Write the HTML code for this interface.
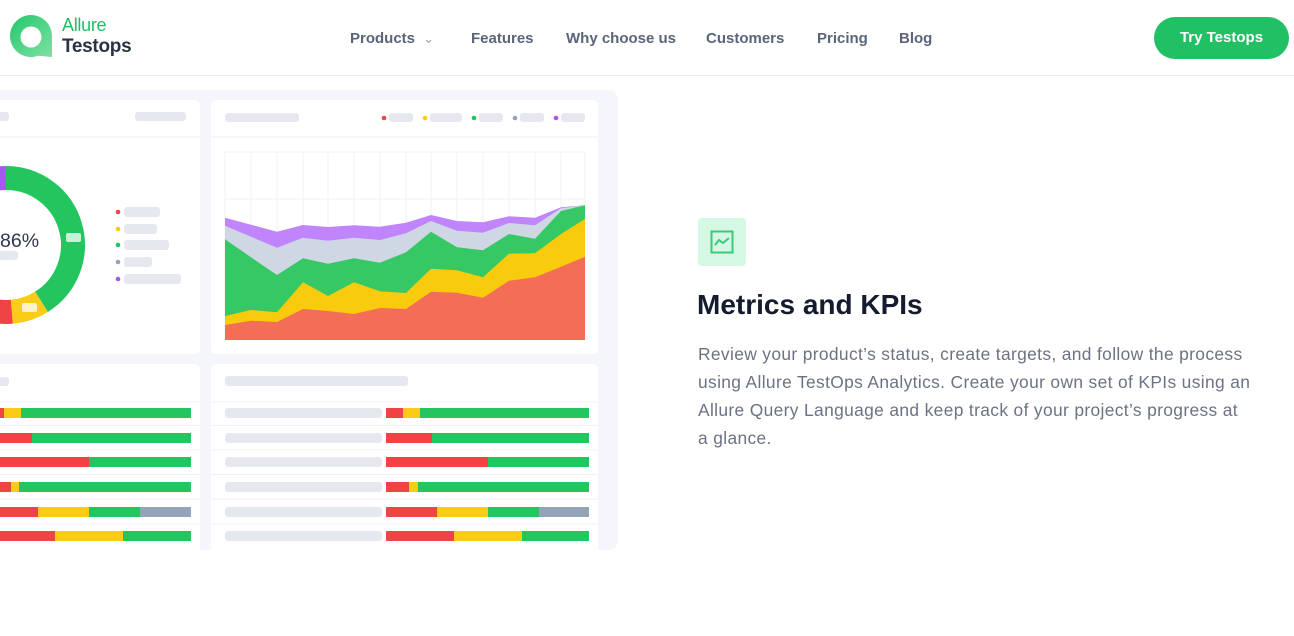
<!DOCTYPE html>
<html><head><meta charset="utf-8"><style>
*{margin:0;padding:0;box-sizing:border-box}
body{width:1294px;height:636px;overflow:hidden;background:#fff;font-family:"Liberation Sans",sans-serif;position:relative}
.nav{position:absolute;top:30px;font-size:15px;font-weight:bold;color:#5b6579}
.p{position:absolute;left:698px;font-size:17.4px;letter-spacing:0.35px;color:#6b7383;white-space:nowrap}
</style></head><body>
<div style="position:absolute;left:0;top:75px;width:1294px;height:1px;background:#e8eaee"></div>
<svg style="position:absolute;left:8px;top:13px" width="46" height="46" viewBox="0 0 46 46">
<defs><linearGradient id="lg" x1="0" y1="0" x2="1" y2="1"><stop offset="0" stop-color="#25c76a"/><stop offset="1" stop-color="#7de0a4"/></linearGradient></defs>
<path d="M23 2 A21 21 0 1 0 30 42.8 L44 44 L44 23 A21 21 0 0 0 23 2Z" fill="url(#lg)"/>
<circle cx="23" cy="24" r="10.5" fill="#fff"/>
</svg>
<div style="position:absolute;left:62px;top:15px;font-size:18px;color:#21c065;letter-spacing:-0.3px">Allure</div>
<div style="position:absolute;left:62px;top:36px;font-size:19px;font-weight:bold;color:#2a3344;letter-spacing:-0.3px">Testops</div>
<div class="nav" style="left:350px">Products <span style="color:#9aa2b1;font-weight:normal;font-size:13px;margin-left:4px">&#8964;</span></div>
<div class="nav" style="left:471px">Features</div>
<div class="nav" style="left:566px">Why choose us</div>
<div class="nav" style="left:706px">Customers</div>
<div class="nav" style="left:817px">Pricing</div>
<div class="nav" style="left:899px">Blog</div>
<div style="position:absolute;left:1154px;top:17px;width:135px;height:42px;border-radius:21px;background:#21c065;color:#fff;font-weight:bold;font-size:15px;text-align:center;line-height:42px">Try Testops</div>

<svg style="position:absolute;left:0;top:0" width="640" height="560">
<rect x="-20" y="90" width="638" height="460" rx="10" fill="#f5f6fb"/>
<rect x="-10" y="100" width="210" height="254" rx="5" fill="#fff"/>
<rect x="211" y="100" width="387" height="254" rx="5" fill="#fff"/>
<rect x="-10" y="364" width="210" height="200" rx="5" fill="#fff"/>
<rect x="211" y="364" width="387" height="200" rx="5" fill="#fff"/>
<line x1="0" y1="137" x2="200" y2="137" stroke="#f0f1f5"/>
<line x1="211" y1="137" x2="598" y2="137" stroke="#f0f1f5"/>
<rect x="-5" y="112" width="14" height="9" rx="3" fill="#e5e8ee"/>
<rect x="135" y="112" width="51" height="9" rx="3" fill="#e5e8ee"/>
<rect x="225" y="113" width="74" height="9" rx="3" fill="#e5e8ee"/>
<circle cx="384" cy="118" r="2.3" fill="#ef4444"/><rect x="389" y="113" width="24" height="9" rx="3" fill="#e5e8ee"/>
<circle cx="425" cy="118" r="2.3" fill="#facc15"/><rect x="430" y="113" width="32" height="9" rx="3" fill="#e5e8ee"/>
<circle cx="474" cy="118" r="2.3" fill="#22c55e"/><rect x="479" y="113" width="24" height="9" rx="3" fill="#e5e8ee"/>
<circle cx="515" cy="118" r="2.3" fill="#94a3b8"/><rect x="520" y="113" width="24" height="9" rx="3" fill="#e5e8ee"/>
<circle cx="556" cy="118" r="2.3" fill="#a855f7"/><rect x="561" y="113" width="24" height="9" rx="3" fill="#e5e8ee"/>
<g fill="none" stroke-width="24">
<path d="M-3.3 178.7 A67 67 0 0 1 6 178" stroke="#a855f7"/>
<path d="M6 178 A67 67 0 0 1 41.5 301.8" stroke="#22c55e"/>
<path d="M41.5 301.8 A67 67 0 0 1 11.8 311.7" stroke="#facc15"/>
<path d="M11.8 311.7 A67 67 0 0 1 -60 256.6" stroke="#ef4444"/>
</g>
<rect x="66" y="233" width="15" height="9" rx="2" fill="#c9f0d8"/>
<rect x="22" y="303" width="15" height="9" rx="2" fill="#fef3c7"/>
<text x="0" y="247" font-size="19.5" fill="#2d3748" font-family="Liberation Sans,sans-serif">86%</text>
<rect x="-5" y="251" width="23" height="9" rx="3" fill="#e5e8ee"/>
<circle cx="118" cy="212" r="2.3" fill="#ef4444"/><rect x="124" y="207" width="36" height="10" rx="3" fill="#e5e8ee"/>
<circle cx="118" cy="229" r="2.3" fill="#facc15"/><rect x="124" y="224" width="33" height="10" rx="3" fill="#e5e8ee"/>
<circle cx="118" cy="245" r="2.3" fill="#22c55e"/><rect x="124" y="240" width="45" height="10" rx="3" fill="#e5e8ee"/>
<circle cx="118" cy="262" r="2.3" fill="#94a3b8"/><rect x="124" y="257" width="28" height="10" rx="3" fill="#e5e8ee"/>
<circle cx="118" cy="279" r="2.3" fill="#a855f7"/><rect x="124" y="274" width="57" height="10" rx="3" fill="#e5e8ee"/>
<g stroke="#eef0f3" stroke-width="1">
<line x1="225" y1="152" x2="585" y2="152"/>
<line x1="225" y1="199" x2="585" y2="199"/>
<line x1="225" y1="276" x2="585" y2="276"/>
<line x1="225" y1="152" x2="225" y2="340"/><line x1="251" y1="152" x2="251" y2="340"/><line x1="277" y1="152" x2="277" y2="340"/><line x1="303" y1="152" x2="303" y2="340"/><line x1="328" y1="152" x2="328" y2="340"/><line x1="354" y1="152" x2="354" y2="340"/><line x1="380" y1="152" x2="380" y2="340"/><line x1="406" y1="152" x2="406" y2="340"/><line x1="431" y1="152" x2="431" y2="340"/><line x1="457" y1="152" x2="457" y2="340"/><line x1="483" y1="152" x2="483" y2="340"/><line x1="509" y1="152" x2="509" y2="340"/><line x1="535" y1="152" x2="535" y2="340"/><line x1="561" y1="152" x2="561" y2="340"/><line x1="585" y1="152" x2="585" y2="340"/>
</g>
<polygon fill="#c084fc" points="225,340 225,217.7 251,224.7 277,231.7 303,225 328,227 354,225.3 380,226.7 406,222.7 431,215 457,221 483,222.3 509,216.3 535,217.7 561,207.3 585,205.3 585,340"/>
<polygon fill="#cfd6e4" points="225,340 225,225.7 251,236.7 277,247.7 303,237.7 328,240.7 354,237.7 380,240 406,233.3 431,221 457,230.7 483,232.7 509,223 535,225.3 561,208.3 585,205.3 585,340"/>
<polygon fill="#37c866" points="225,340 225,239.3 251,257.3 277,275 303,258.3 328,263.7 354,258.3 380,262.7 406,252.3 431,231.7 457,247.3 483,250.3 509,234 535,238.7 561,211 585,205.3 585,340"/>
<polygon fill="#f8cc0c" points="225,340 225,316 251,310 277,312.3 303,282.3 328,296 354,282.3 380,291.3 406,293 431,268.7 457,270.3 483,277.3 509,253.7 535,253.3 561,234 585,219 585,340"/>
<polygon fill="#f46e57" points="225,340 225,325 251,320.7 277,322 303,309 328,311 354,314 380,308 406,309 431,291.7 457,292.7 483,297.7 509,280.7 535,277.3 561,266.7 585,256.7 585,340"/>
<rect x="-5" y="377" width="14" height="9" rx="3" fill="#e5e8ee"/>
<rect x="225" y="376" width="183" height="10" rx="3" fill="#e5e8ee"/>
<g stroke="#f0f1f5"><line x1="0" y1="402" x2="200" y2="402"/><line x1="211" y1="402" x2="598" y2="402"/>
<line x1="0" y1="425.5" x2="200" y2="425.5"/><line x1="211" y1="425.5" x2="598" y2="425.5"/>
<line x1="0" y1="450" x2="200" y2="450"/><line x1="211" y1="450" x2="598" y2="450"/>
<line x1="0" y1="474.5" x2="200" y2="474.5"/><line x1="211" y1="474.5" x2="598" y2="474.5"/>
<line x1="0" y1="499" x2="200" y2="499"/><line x1="211" y1="499" x2="598" y2="499"/>
<line x1="0" y1="524" x2="200" y2="524"/><line x1="211" y1="524" x2="598" y2="524"/></g>
<g>
<rect x="225" y="408" width="157" height="10" rx="3" fill="#e5e8ee"/>
<rect x="225" y="433" width="157" height="10" rx="3" fill="#e5e8ee"/>
<rect x="225" y="457" width="157" height="10" rx="3" fill="#e5e8ee"/>
<rect x="225" y="482" width="157" height="10" rx="3" fill="#e5e8ee"/>
<rect x="225" y="507" width="157" height="10" rx="3" fill="#e5e8ee"/>
<rect x="225" y="531" width="157" height="10" rx="3" fill="#e5e8ee"/>
</g>
<rect x="386" y="408" width="17" height="10" fill="#ef4444"/><rect x="403" y="408" width="17" height="10" fill="#facc15"/><rect x="420" y="408" width="169" height="10" fill="#22c55e"/>
<rect x="386" y="433" width="46" height="10" fill="#ef4444"/><rect x="432" y="433" width="157" height="10" fill="#22c55e"/>
<rect x="386" y="457" width="102" height="10" fill="#ef4444"/><rect x="488" y="457" width="101" height="10" fill="#22c55e"/>
<rect x="386" y="482" width="23" height="10" fill="#ef4444"/><rect x="409" y="482" width="9" height="10" fill="#facc15"/><rect x="418" y="482" width="171" height="10" fill="#22c55e"/>
<rect x="386" y="507" width="51" height="10" fill="#ef4444"/><rect x="437" y="507" width="51" height="10" fill="#facc15"/><rect x="488" y="507" width="51" height="10" fill="#22c55e"/><rect x="539" y="507" width="50" height="10" fill="#94a3b8"/>
<rect x="386" y="531" width="68" height="10" fill="#ef4444"/><rect x="454" y="531" width="68" height="10" fill="#facc15"/><rect x="522" y="531" width="67" height="10" fill="#22c55e"/>
<rect x="0" y="408" width="4" height="10" fill="#ef4444"/><rect x="4" y="408" width="17" height="10" fill="#facc15"/><rect x="21" y="408" width="170" height="10" fill="#22c55e"/>
<rect x="0" y="433" width="32" height="10" fill="#ef4444"/><rect x="32" y="433" width="159" height="10" fill="#22c55e"/>
<rect x="0" y="457" width="89" height="10" fill="#ef4444"/><rect x="89" y="457" width="102" height="10" fill="#22c55e"/>
<rect x="0" y="482" width="11" height="10" fill="#ef4444"/><rect x="11" y="482" width="8" height="10" fill="#facc15"/><rect x="19" y="482" width="172" height="10" fill="#22c55e"/>
<rect x="0" y="507" width="38" height="10" fill="#ef4444"/><rect x="38" y="507" width="51" height="10" fill="#facc15"/><rect x="89" y="507" width="51" height="10" fill="#22c55e"/><rect x="140" y="507" width="51" height="10" fill="#94a3b8"/>
<rect x="0" y="531" width="55" height="10" fill="#ef4444"/><rect x="55" y="531" width="68" height="10" fill="#facc15"/><rect x="123" y="531" width="68" height="10" fill="#22c55e"/>
<rect x="0" y="550" width="640" height="10" fill="#fff"/>
</svg>

<div style="position:absolute;left:698px;top:218px;width:48px;height:48px;border-radius:4px;background:#d5f8e5"></div>
<svg style="position:absolute;left:710px;top:230px" width="24" height="24" viewBox="0 0 24 24"><rect x="1.5" y="1.5" width="21" height="21" fill="none" stroke="#3cc97a" stroke-width="2"/><polyline points="5,15 9,10 13,13 19,8" fill="none" stroke="#3cc97a" stroke-width="2"/></svg>
<div style="position:absolute;left:697px;top:289px;font-size:28px;font-weight:bold;color:#141b2d;letter-spacing:0px">Metrics and KPIs</div>
<div class="p" style="top:344px">Review your product’s status, create targets, and follow the process</div>
<div class="p" style="top:372px">using Allure TestOps Analytics. Create your own set of KPIs using an</div>
<div class="p" style="top:400px">Allure Query Language and keep track of your project’s progress at</div>
<div class="p" style="top:428px">a glance.</div>
</body></html>
